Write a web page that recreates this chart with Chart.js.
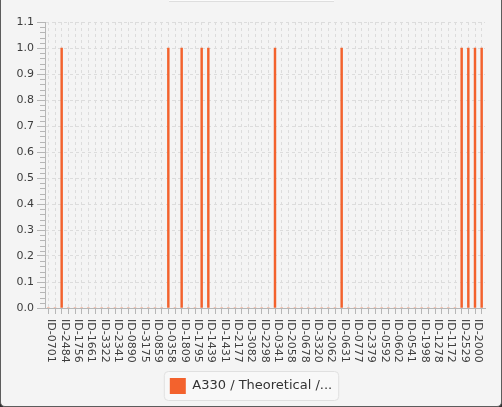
<!DOCTYPE html>
<html>
<head>
<meta charset="utf-8">
<script src="https://cdn.jsdelivr.net/npm/chart.js@4.4.1/dist/chart.umd.min.js"></script>
<style>
  html, body { margin: 0; padding: 0; background: #2e2e2e; }
  #frame {
    position: absolute; left: 0; top: 0; width: 500px; height: 406px;
    background: #f4f4f4;
    border: 1px solid #5c5c5c; border-top: none;
    border-radius: 0 0 5px 5px;
    overflow: hidden;
  }
  #tab {
    position: absolute; left: 168px; top: 0; width: 165px; height: 1px;
    background: #fbfbfb; border-bottom: 1px solid #dedede;
  }
  canvas { position: absolute; left: -1px; top: 0; }
</style>
</head>
<body>
<div id="frame">
  <div id="tab"></div>
  <canvas id="chart" width="502" height="407"></canvas>
</div>
<script>
// Labels that are visible on the x axis (every second category)
const shownLabels = [
    'ID-0701', 'ID-2484', 'ID-1756', 'ID-1661', 'ID-3322', 'ID-2341', 'ID-0890',
    'ID-3175', 'ID-0859', 'ID-0358', 'ID-1809', 'ID-1795', 'ID-1439', 'ID-1431',
    'ID-2177', 'ID-3082', 'ID-2298', 'ID-0341', 'ID-2058', 'ID-0678', 'ID-3320',
    'ID-2062', 'ID-0631', 'ID-0777', 'ID-2379', 'ID-0592', 'ID-0602', 'ID-0541',
    'ID-1998', 'ID-1278', 'ID-1172', 'ID-2529', 'ID-2000'
];

// one value per category (66 categories)
const values = [
    0, 0, 1, 0, 0, 0, 0, 0, 0, 0,
    0, 0, 0, 0, 0, 0, 0, 0, 1, 0,
    1, 0, 0, 1, 1, 0, 0, 0, 0, 0,
    0, 0, 0, 0, 1, 0, 0, 0, 0, 0,
    0, 0, 0, 0, 1, 0, 0, 0, 0, 0,
    0, 0, 0, 0, 0, 0, 0, 0, 0, 0,
    0, 0, 1, 1, 1, 1
];

const seriesName = 'A330 / Theoretical /...';
const yTicks = [0, 0.1, 0.2, 0.3, 0.4, 0.5, 0.6, 0.7, 0.8, 0.9, 1.0, 1.1];

// hidden labels in between are not readable in the picture
const categories = values.map((_, i) => (i % 2 === 0 ? shownLabels[i / 2] : ''));

const FONT = 'DejaVu Sans';
const AXIS = '#b6b6b6';
const GRID = '#dcdcdc';
const PLOT_BOTTOM = 308;
const PAD_BOTTOM = 3;

// legend frame, minor y ticks and rotated category labels
const extras = {
    id: 'extras',
    beforeDraw(chart) {
        const lg = chart.legend;
        if (!lg || !lg.legendHitBoxes.length) return;
        const hb = lg.legendHitBoxes[0];
        const ctx = chart.ctx;
        ctx.save();
        ctx.beginPath();
        ctx.roundRect(hb.left - 5.5, hb.top - 6.5, hb.width + 12, hb.height + 13, 4);
        ctx.fillStyle = '#f8f8f8';
        ctx.fill();
        ctx.strokeStyle = '#e0e0e0';
        ctx.lineWidth = 1;
        ctx.stroke();
        ctx.restore();
    },
    afterDraw(chart) {
        const ctx = chart.ctx;
        const y = chart.scales.y;
        const x = chart.scales.x;
        ctx.save();
        ctx.strokeStyle = AXIS;
        ctx.lineWidth = 1;
        for (let i = 1; i < 55; i++) {
            if (i % 5 === 0) continue;
            const py = Math.round(y.getPixelForValue(i * 0.02)) + 0.5;
            ctx.beginPath();
            ctx.moveTo(y.right - 5, py);
            ctx.lineTo(y.right, py);
            ctx.stroke();
        }
        ctx.fillStyle = '#3c3c3c';
        ctx.font = '11px "' + FONT + '"';
        ctx.textAlign = 'left';
        ctx.textBaseline = 'middle';
        categories.forEach((lab, i) => {
            if (!lab) return;
            const px = x.getPixelForTick(i);
            ctx.save();
            ctx.translate(px + 3, x.top + 11);
            ctx.rotate(Math.PI / 2);
            ctx.fillText(lab, 0, 0);
            ctx.restore();
        });
        ctx.restore();
    }
};

new Chart(document.getElementById('chart'), {
    type: 'bar',
    data: {
        labels: categories,
        datasets: [{
            label: seriesName,
            data: values,
            backgroundColor: '#f3622d',
            borderWidth: 0,
            barThickness: 1.8
        }]
    },
    options: {
        responsive: false,
        animation: false,
        devicePixelRatio: 1,
        layout: { padding: { left: 0, top: 22, right: 0, bottom: PAD_BOTTOM } },
        plugins: {
            legend: {
                position: 'bottom',
                labels: {
                    boxWidth: 16,
                    boxHeight: 16,
                    color: '#333333',
                    font: { family: FONT, size: 13 },
                    padding: 10
                }
            },
            tooltip: { enabled: false }
        },
        scales: {
            x: {
                offset: true,
                grid: {
                    offset: false,
                    color: GRID,
                    tickColor: AXIS,
                    tickLength: 6
                },
                border: { display: true, color: AXIS, dash: [3, 3] },
                ticks: { display: false },
                afterFit(scale) {
                    const lg = scale.chart.legend;
                    scale.height = 407 - PLOT_BOTTOM - PAD_BOTTOM - (lg ? lg.height : 0);
                }
            },
            y: {
                min: 0,
                max: 1.1,
                afterBuildTicks(scale) {
                    scale.ticks = yTicks.map(v => ({ value: v }));
                },
                grid: {
                    color: GRID,
                    tickColor: AXIS,
                    tickLength: 8
                },
                border: { display: true, color: AXIS, dash: [3, 3] },
                ticks: {
                    padding: 3,
                    color: '#3c3c3c',
                    font: { family: FONT, size: 11 },
                    callback: v => v.toFixed(1)
                },
                afterFit(scale) {
                    scale.width = 45;
                }
            },
            // empty right-hand gutter so the plot ends where the reference does
            gutter: {
                type: 'linear',
                position: 'right',
                grid: { drawOnChartArea: false, drawTicks: false },
                border: { display: false },
                ticks: { display: false },
                afterFit(scale) {
                    scale.width = 17;
                }
            }
        }
    },
    plugins: [extras]
});
</script>
</body>
</html>
